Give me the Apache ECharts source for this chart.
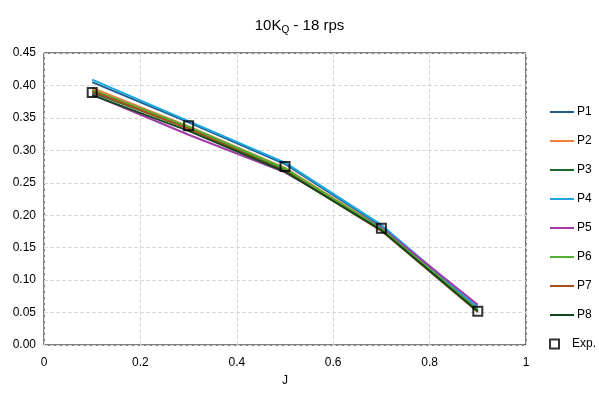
<!DOCTYPE html>
<html>
<head>
<meta charset="utf-8">
<script src="https://cdn.jsdelivr.net/npm/echarts@6/dist/echarts.min.js"></script>
<style>
  html, body { margin: 0; padding: 0; background: #fff; }
  #chart { width: 599px; height: 398px; }
</style>
</head>
<body>
<div id="chart"></div>
<script>
// advance ratio J
const J = [0.1, 0.3, 0.5, 0.7, 0.9];

// 10KQ for each propeller case
const P1 = [0.405, 0.343, 0.279, 0.183, 0.056];
const P2 = [0.396, 0.337, 0.273, 0.180, 0.054];
const P3 = [0.389, 0.334, 0.270, 0.178, 0.052];
const P4 = [0.409, 0.345, 0.281, 0.185, 0.058];
const P5 = [0.386, 0.324, 0.266, 0.181, 0.062];
const P6 = [0.393, 0.336, 0.272, 0.179, 0.054];
const P7 = [0.391, 0.333, 0.268, 0.176, 0.051];
const P8 = [0.385, 0.330, 0.267, 0.177, 0.052];
const EXP = [0.389, 0.338, 0.275, 0.180, 0.052];

const names = ['P1', 'P2', 'P3', 'P4', 'P5', 'P6', 'P7', 'P8'];
const values = [P1, P2, P3, P4, P5, P6, P7, P8];
const colors = ['#1f5f8b', '#f07f3c', '#1a6b2a', '#1ea7e0', '#a33aa8', '#52b130', '#a9501f', '#0f4a1c'];

const FONT = "'Liberation Sans Narrow', 'Liberation Sans', Arial, sans-serif";

const chart = echarts.init(document.getElementById('chart'));

const lineSeries = names.map((n, i) => ({
    name: n,
    type: 'line',
    symbol: 'none',
    color: colors[i],
    lineStyle: { width: 2, color: colors[i] },
    data: J.map((j, k) => [j, values[i][k]])
}));

chart.setOption({
    animation: false,
    textStyle: { fontFamily: FONT, color: '#000' },
    title: {
        text: '{a|10K}{s|Q}{a| - 18 rps}',
        left: 'center',
        top: 11,
        textStyle: {
            fontWeight: 'normal',
            rich: {
                a: { fontSize: 15, fontFamily: FONT, color: '#000' },
                s: { fontSize: 10, fontFamily: FONT, color: '#000', padding: [9, 0, 0, 0] }
            }
        }
    },
    grid: {
        left: 44,
        right: 73,
        top: 53,
        bottom: 53,
        show: true,
        borderColor: '#000',
        borderWidth: 1
    },
    legend: [{
        orient: 'vertical',
        left: 549,
        top: 106,
        padding: 0,
        itemWidth: 24,
        itemHeight: 12,
        itemGap: 17,
        itemStyle: { opacity: 0 },
        lineStyle: { width: 2 },
        textStyle: { fontSize: 12, fontFamily: FONT, color: '#000', padding: [0, 0, 0, -2] },
        data: names
    }, {
        orient: 'vertical',
        left: 549,
        top: 338,
        padding: 0,
        itemWidth: 9,
        itemHeight: 9,
        textStyle: { fontSize: 12, fontFamily: FONT, color: '#000', padding: [0, 0, 0, 8] },
        data: [{
            name: 'Exp.',
            icon: 'rect',
            itemStyle: { color: 'rgba(0,0,0,0)', borderColor: '#000', borderWidth: 2 }
        }]
    }],
    xAxis: {
        type: 'value',
        min: 0,
        max: 1,
        interval: 0.2,
        name: 'J',
        nameLocation: 'middle',
        nameGap: 30,
        nameTextStyle: { fontSize: 12, color: '#000' },
        axisLine: { show: false },
        axisTick: { show: false },
        axisLabel: { fontSize: 12, color: '#000', margin: 12 },
        splitLine: { show: true, lineStyle: { type: 'dashed', color: '#d9d9d9' } }
    },
    yAxis: {
        type: 'value',
        min: 0,
        max: 0.45,
        interval: 0.05,
        axisLine: { show: false },
        axisTick: { show: false },
        axisLabel: { fontSize: 12, color: '#000', margin: 8, formatter: v => v.toFixed(2) },
        splitLine: { show: true, lineStyle: { type: 'dashed', color: '#d9d9d9' } }
    },
    series: lineSeries.concat([{
        name: 'Exp.',
        type: 'scatter',
        symbol: 'rect',
        symbolSize: 9,
        z: 5,
        itemStyle: { color: 'rgba(0,0,0,0)', borderColor: '#000', borderWidth: 2 },
        data: J.map((j, k) => [j, EXP[k]])
    }])
});
</script>
</body>
</html>
